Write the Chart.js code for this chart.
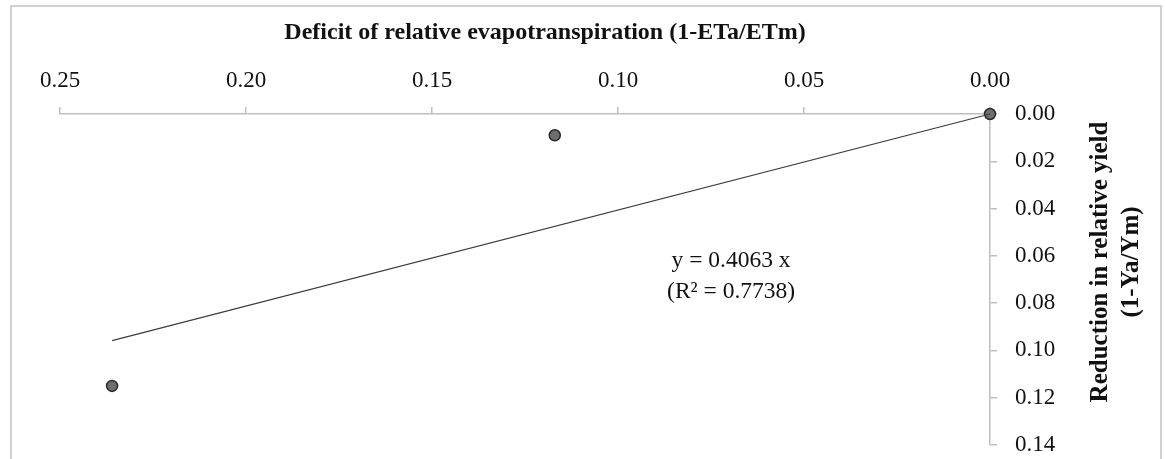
<!DOCTYPE html>
<html>
<head>
<meta charset="utf-8">
<script src="https://cdn.jsdelivr.net/npm/chart.js@4.4.1/dist/chart.umd.min.js"></script>
<style>
    html, body { margin: 0; padding: 0; background: #fff; }
    #wrap { position: relative; width: 1165px; height: 459px; }
</style>
</head>
<body>
<div id="wrap"><canvas id="chart1"></canvas></div>
<script>
// values
const etDeficit = [0.0, 0.117, 0.236];      // 1-ETa/ETm
const yieldReduction = [0.0, 0.009, 0.115]; // 1-Ya/Ym
const slope = 0.4063;
const rSquared = 0.7738;
const xTicks = [0.0, 0.05, 0.1, 0.15, 0.2, 0.25];
const yTicks = [0.0, 0.02, 0.04, 0.06, 0.08, 0.1, 0.12, 0.14];

const xTitle = "Deficit of relative evapotranspiration (1-ETa/ETm)";
const yTitle = ["Reduction in relative yield", "(1-Ya/Ym)"];

const serif = "'Liberation Serif', 'DejaVu Serif', serif";
const axisGray = "#bfbfbf";

const points = etDeficit.map((x, i) => ({ x: x, y: yieldReduction[i] }));
const xMax = Math.max(...etDeficit);
const trend = [
    { x: 0, y: 0 },
    { x: xMax, y: slope * xMax },
];

// frame, axis titles and the trendline equation
const extras = {
    id: "extras",
    afterDraw(chart) {
        const ctx = chart.ctx;
        const xs = chart.scales.x;
        const ys = chart.scales.y;
        ctx.save();

        ctx.strokeStyle = "#c4c4c4";
        ctx.lineWidth = 1.5;
        ctx.strokeRect(11, 6, 1150, 520);

        ctx.fillStyle = "#111";
        ctx.textAlign = "center";
        ctx.textBaseline = "middle";
        ctx.font = "bold 24px " + serif;
        ctx.fillText(xTitle, 545, 33);

        ctx.save();
        ctx.font = "bold 25px " + serif;
        ctx.translate(1101, 262);
        ctx.rotate(-Math.PI / 2);
        ctx.fillText(yTitle[0], 0, 0);
        ctx.fillText(yTitle[1], 0, 31);
        ctx.restore();

        ctx.font = "23.5px " + serif;
        const ex = xs.getPixelForValue(0.0696);
        const ey = ys.getPixelForValue(0.0686);
        ctx.fillText("y = " + slope.toFixed(4) + " x", ex, ey - 15.5);
        ctx.fillText("(R\u00b2 = " + rSquared.toFixed(4) + ")", ex, ey + 15.5);

        ctx.restore();
    },
};

const ctx = document.getElementById("chart1").getContext("2d");

new Chart(ctx, {
    type: "scatter",
    data: {
        datasets: [
            {
                label: "Trend",
                type: "line",
                data: trend,
                borderColor: "#3c3c3c",
                borderWidth: 1.2,
                pointRadius: 0,
                fill: false,
                clip: false,
            },
            {
                label: "Observed",
                data: points,
                backgroundColor: "#6e6e6e",
                borderColor: "#2a2a2a",
                borderWidth: 1.5,
                pointRadius: 5.5,
                clip: false,
            },
        ],
    },
    options: {
        responsive: true,
        maintainAspectRatio: false,
        animation: false,
        layout: {
            padding: { left: 60, top: 0, right: 0, bottom: 14 },
        },
        plugins: {
            legend: { display: false },
            tooltip: { enabled: false },
        },
        scales: {
            x: {
                type: "linear",
                position: "top",
                reverse: true,
                min: 0,
                max: 0.25,
                afterBuildTicks: (scale) => {
                    scale.ticks = xTicks.map((v) => ({ value: v }));
                },
                afterFit: (scale) => {
                    scale.height = 114;
                    scale.paddingLeft = 0;
                    scale.paddingRight = 0;
                },
                ticks: {
                    color: "#111",
                    padding: 12,
                    font: { family: serif, size: 23 },
                    callback: (v) => Number(v).toFixed(2),
                },
                grid: {
                    drawOnChartArea: false,
                    drawTicks: true,
                    tickLength: 7,
                    color: axisGray,
                    lineWidth: 1.5,
                },
                border: { color: axisGray, width: 1.5 },
            },
            y: {
                type: "linear",
                position: "right",
                reverse: true,
                min: 0,
                max: 0.14,
                afterBuildTicks: (scale) => {
                    scale.ticks = yTicks.map((v) => ({ value: v }));
                },
                afterFit: (scale) => {
                    scale.width = 175;
                    scale.paddingTop = 0;
                    scale.paddingBottom = 0;
                },
                ticks: {
                    color: "#111",
                    padding: 18,
                    font: { family: serif, size: 23 },
                    callback: (v) => Number(v).toFixed(2),
                },
                grid: {
                    drawOnChartArea: false,
                    drawTicks: true,
                    tickLength: 7,
                    color: axisGray,
                    lineWidth: 1.5,
                },
                border: { color: axisGray, width: 1.5 },
            },
        },
    },
    plugins: [extras],
});
</script>
</body>
</html>
